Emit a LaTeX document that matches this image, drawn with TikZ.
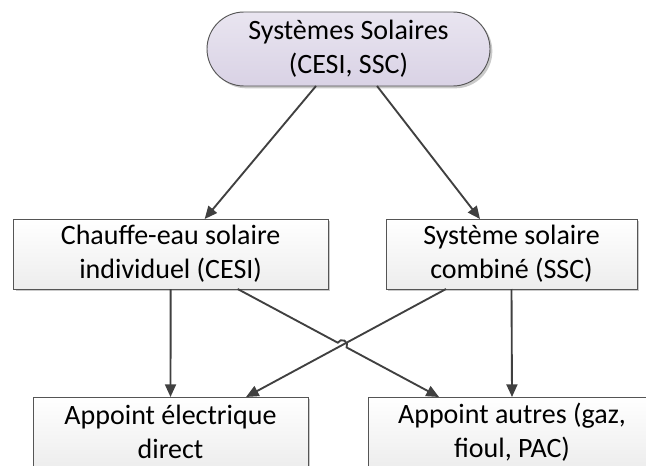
\documentclass[tikz,border=0pt]{standalone}
\usepackage{fontspec}
\setmainfont{Carlito}
\usetikzlibrary{arrows.meta, calc, shadows}
\definecolor{lavtop}{HTML}{E9E5F0}
\definecolor{lavbot}{HTML}{D9D2E5}
\definecolor{linegray}{HTML}{404040}
\definecolor{edgegray}{HTML}{555555}

\begin{document}
\begin{tikzpicture}[
    font=\fontsize{23.9}{29}\selectfont,
    racine/.style={
        rectangle, rounded corners=1.11cm, draw=edgegray, line width=0.8pt,
        top color=lavtop, bottom color=lavbot,
        minimum width=8.49cm, minimum height=2.22cm,
        inner sep=0pt, outer sep=0pt, align=center,
        drop shadow={shadow xshift=0.07cm, shadow yshift=-0.07cm, fill=black!35, opacity=0.6}
    },
    boite/.style={
        rectangle, draw=edgegray, line width=0.8pt,
        top color=white, bottom color=black!7,
        minimum height=2.1cm,
        inner sep=0pt, outer sep=0pt, align=center,
        drop shadow={shadow xshift=0.07cm, shadow yshift=-0.07cm, fill=black!35, opacity=0.6}
    },
    fleche/.style={-{Triangle[length=3.8mm, width=3.3mm]}, line width=1.6pt, linegray}
]

\useasboundingbox (0,0) rectangle (19.38,-13.98);

% === NIVEAU 1 ===

\node[racine] (sys) at (10.455, -1.47) {Systèmes Solaires\\(CESI, SSC)};

% === NIVEAU 2 ===

\node[boite, minimum width=9.44cm] (cesi) at (5.12, -7.62) {Chauffe-eau solaire\\individuel (CESI)};
\node[boite, minimum width=7.53cm] (ssc) at (15.345, -7.62) {Système solaire\\combiné (SSC)};

% === NIVEAU 3 ===

\node[boite, minimum width=8.25cm] (elec) at (5.115, -12.96) {Appoint électrique\\direct};
\node[boite, minimum width=8.64cm] (autres) at (15.36, -12.96) {Appoint autres (gaz,\\fioul, PAC)};

% === LIENS ===

\draw[fleche] ([xshift=-0.975cm]sys.south) -- ([xshift=1.02cm]cesi.north);
\draw[fleche] ([xshift=0.855cm]sys.south) -- ([xshift=-0.945cm]ssc.north);

\draw[fleche] (cesi.south) -- (elec.north);
\draw[fleche] (ssc.south) -- (autres.north);

% SSC vers appoint electrique
\coordinate (d2) at ([xshift=-1.965cm]ssc.south);
\coordinate (f2) at ([xshift=2.265cm]elec.north);
\draw[fleche] (d2) -- (f2);

% CESI vers appoint autres, avec saut au croisement
\coordinate (d1) at ([xshift=2.01cm]cesi.south);
\coordinate (f1) at ([xshift=-2.19cm]autres.north);
\coordinate (x) at (intersection of d1--f1 and d2--f2);
\draw[fleche] let \p1 = ($(f1)-(d1)$), \n1 = {atan2(\y1,\x1)} in
    (d1) -- ($(x)!0.15cm!(d1)$) arc[start angle=\n1+180, end angle=\n1, radius=0.15cm] -- (f1);

\end{tikzpicture}
\end{document}
